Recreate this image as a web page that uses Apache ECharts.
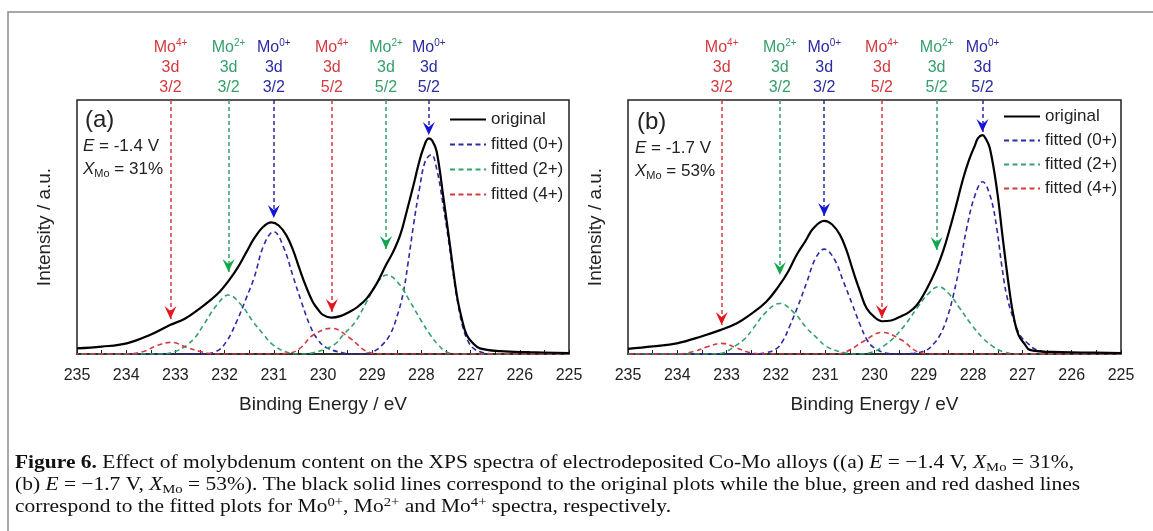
<!DOCTYPE html>
<html>
<head>
<meta charset="utf-8">
<script src="https://cdn.jsdelivr.net/npm/echarts@6/dist/echarts.min.js"></script>
<style>
  html, body { margin: 0; padding: 0; background: #fff; }
  #chart { width: 1153px; height: 531px; }
</style>
</head>
<body>
<div id="chart"></div>
<script>
// binding energy (eV), intensity (a.u., 0-100 of the frame height)
const origA = [[225.0, 0.4], [225.8, 0.7], [226.4, 1.1], [226.81, 2.2], [226.95, 4.2], [227.08, 7.5], [227.18, 14], [227.28, 23.2], [227.42, 42.9], [227.56, 62.6], [227.69, 79.7], [227.78, 84], [227.85, 84.9], [227.96, 81], [228.06, 74.5], [228.16, 66.5], [228.3, 56], [228.43, 46.9], [228.58, 40], [228.72, 35], [228.9, 28], [229.11, 21.9], [229.3, 18.5], [229.45, 16.7], [229.65, 14.9], [229.83, 14.3], [230.0, 15.4], [230.1, 17.5], [230.21, 20.6], [230.35, 26.8], [230.48, 33.7], [230.62, 41.5], [230.75, 46.9], [230.9, 50.6], [231.05, 51.8], [231.22, 50], [231.4, 45.5], [231.56, 40], [231.75, 33.5], [231.93, 28.5], [232.1, 24.5], [232.3, 21], [232.5, 18], [232.8, 14], [233.11, 11.4], [233.52, 7.5], [233.99, 4.2], [234.5, 2.9], [235.0, 2.2]];
const fit0A = [[225.0, 0], [226.4, 0], [226.74, 0.5], [226.94, 2.2], [227.05, 5], [227.15, 10], [227.25, 19], [227.35, 31], [227.45, 45], [227.56, 58.7], [227.68, 72], [227.8, 78.5], [227.92, 76], [228.04, 65], [228.16, 50.8], [228.27, 36], [228.37, 24], [228.5, 14.5], [228.64, 7.5], [228.8, 3.5], [228.95, 1.2], [229.1, 0.3], [229.35, 0], [229.6, 0.5], [229.93, 2.5], [230.1, 5.5], [230.26, 11], [230.43, 20], [230.6, 30], [230.8, 42], [231.0, 48.2], [231.2, 43], [231.4, 30], [231.56, 22], [231.75, 13], [231.96, 5], [232.17, 1], [232.5, 0], [235.0, 0]];
const fit2A = [[225.0, 0], [227.2, 0], [227.49, 0.8], [227.65, 3.5], [227.82, 7.5], [228.0, 13], [228.23, 20.6], [228.45, 27.5], [228.7, 31.1], [228.9, 28], [229.11, 20.6], [229.35, 12.5], [229.59, 7.5], [229.75, 4], [229.93, 2.2], [230.2, 0.5], [230.45, 0], [230.7, 0.5], [231.01, 3.5], [231.2, 7.5], [231.42, 12.7], [231.65, 19], [231.92, 23.2], [232.15, 19.5], [232.43, 11.4], [232.6, 6.5], [232.77, 3.5], [233.0, 1], [233.3, 0], [235.0, 0]];
const fit4A = [[225.0, 0], [228.8, 0], [229.11, 1], [229.45, 6.2], [229.82, 10.1], [230.2, 7.5], [230.47, 2.2], [230.7, 0.3], [231.0, 0], [232.2, 0], [232.5, 1], [232.78, 2.7], [233.08, 4.6], [233.39, 3.2], [233.65, 1], [234.0, 0], [235.0, 0]];

const origB = [[225.0, 0.4], [225.8, 0.6], [226.4, 0.8], [226.85, 1.6], [226.95, 3.8], [227.08, 7.5], [227.17, 14], [227.25, 23.2], [227.39, 44.2], [227.52, 65.2], [227.66, 81], [227.75, 85], [227.81, 86.2], [227.9, 85], [227.96, 82.3], [228.08, 76.5], [228.2, 69.2], [228.33, 59.5], [228.47, 49.5], [228.6, 41], [228.74, 33.7], [228.93, 26], [229.14, 19.3], [229.3, 16.5], [229.48, 14.7], [229.66, 13.2], [229.85, 12.9], [230.0, 14.5], [230.16, 18], [230.3, 25], [230.43, 32.4], [230.57, 41], [230.7, 46.9], [230.86, 51], [231.02, 52.4], [231.24, 49.5], [231.4, 44.5], [231.58, 39], [231.75, 32.5], [231.95, 26.5], [232.2, 20.5], [232.53, 15.4], [232.8, 12], [233.13, 9.4], [233.5, 7], [234.01, 4.2], [234.5, 3], [235.0, 2]];
const fit0B = [[225.0, 0], [226.2, 0], [226.4, 0.3], [226.71, 1.6], [226.88, 4], [227.05, 7.5], [227.2, 15], [227.32, 23.2], [227.42, 35], [227.52, 49.5], [227.65, 62], [227.81, 67.8], [227.97, 62], [228.13, 49.5], [228.27, 35], [228.4, 23.2], [228.53, 14], [228.67, 7.5], [228.8, 4], [228.94, 1.6], [229.2, 0.3], [229.5, 0], [229.75, 0.3], [230.02, 2.6], [230.15, 5.5], [230.29, 11.4], [230.45, 19.5], [230.63, 28.5], [230.82, 37.5], [231.02, 41.3], [231.2, 37.5], [231.37, 28.5], [231.55, 19], [231.71, 11.4], [231.85, 5.5], [231.98, 2.2], [232.2, 0.5], [232.5, 0], [235.0, 0]];
const fit2B = [[225.0, 0], [227.1, 0], [227.39, 0.9], [227.6, 3], [227.8, 6.2], [228.03, 11.5], [228.27, 18], [228.48, 23.5], [228.7, 26.5], [228.92, 23.5], [229.14, 18], [229.38, 11.5], [229.62, 6.2], [229.82, 3], [230.02, 0.9], [230.3, 0], [230.63, 0.6], [230.97, 2.9], [231.15, 6], [231.37, 10.1], [231.62, 16], [231.92, 19.9], [232.2, 16.5], [232.46, 10.1], [232.63, 6], [232.8, 3.5], [233.05, 0.6], [233.3, 0], [235.0, 0]];
const fit4B = [[225.0, 0], [228.8, 0], [229.14, 1], [229.45, 5.5], [229.85, 8.5], [230.22, 5], [230.56, 1], [230.8, 0], [232.2, 0], [232.53, 0.6], [232.8, 2.4], [233.1, 4.2], [233.4, 2.8], [233.66, 1], [234.0, 0], [235.0, 0]];

// peak markers: energy, arrow tip height, charge, spin-orbit level
const peakE_A = [233.1, 231.92, 231.0, 229.82, 228.72, 227.85];
const tipA = [13.8, 32.3, 53.5, 16.5, 41.3, 86.2];
const peakE_B = [233.1, 231.92, 231.02, 229.85, 228.74, 227.81];
const tipB = [11.4, 31.1, 54.3, 14.2, 40.9, 87.4];
const ions = ['4+', '2+', '0+', '4+', '2+', '0+'];
const levels = ['3/2', '3/2', '3/2', '5/2', '5/2', '5/2'];

const FONT = 'Liberation Sans, Arial, sans-serif';
const SERIF = 'Liberation Serif, Times New Roman, serif';
const col = { '0+': '#2b2ba3', '2+': '#35a06a', '4+': '#d23a3f' };
const arrowCol = { '0+': '#1414d8', '2+': '#12a64a', '4+': '#e8141c' };
const names = ['original', 'fitted (0+)', 'fitted (2+)', 'fitted (4+)'];

const chart = echarts.init(document.getElementById('chart'));

function curve(name, data, color, dashed, gi) {
  return {
    name, type: 'line', xAxisIndex: gi, yAxisIndex: gi, data,
    symbol: 'none', smooth: 0.4, silent: true, animation: false,
    z: dashed ? 2 : 3,
    lineStyle: { color, width: dashed ? 1.6 : 2.2, type: dashed ? [5, 3.5] : 'solid' },
    itemStyle: { color }
  };
}

function markers(peaks, tips) {
  return {
    markLine: {
      silent: true, animation: false, symbol: 'none',
      lineStyle: { type: [4, 3], width: 1.5 },
      label: {
        show: true, position: 'start', distance: 2,
        fontFamily: FONT, fontSize: 16, lineHeight: 20, align: 'center',
        rich: {
          m: { fontFamily: FONT, fontSize: 16, lineHeight: 20 },
          s: { fontFamily: FONT, fontSize: 10, lineHeight: 12, verticalAlign: 'top' }
        }
      },
      data: peaks.map((e, i) => [
        { coord: [e, 100], lineStyle: { color: col[ions[i]] },
          label: { color: col[ions[i]], formatter: '{m|Mo}{s|' + ions[i] + '}\n3d\n' + levels[i] } },
        { coord: [e, tips[i]] }
      ])
    },
    markPoint: {
      silent: true, animation: false,
      symbol: 'path://M0,0 L6,5 L12,0 L6,13 Z', symbolSize: [12, 13], symbolOffset: [0, '-50%'],
      label: { show: false },
      data: peaks.map((e, i) => ({ coord: [e, tips[i]], itemStyle: { color: arrowCol[ions[i]] } }))
    }
  };
}

function xAxis(gi) {
  return {
    gridIndex: gi, type: 'value', min: 225, max: 235, interval: 1, inverse: true,
    name: 'Binding Energy / eV', nameLocation: 'middle', nameGap: 41,
    nameTextStyle: { fontFamily: FONT, fontSize: 19, color: '#222' },
    axisLine: { show: true, lineStyle: { color: '#222', width: 1.5 } },
    axisTick: { show: true, inside: true, length: 4, lineStyle: { color: '#222' } },
    minorTick: { show: true, splitNumber: 2, length: 4, lineStyle: { color: '#222' } },
    axisLabel: { fontFamily: FONT, fontSize: 16, color: '#222', margin: 14 },
    splitLine: { show: false }
  };
}

function yAxis(gi) {
  return {
    gridIndex: gi, type: 'value', min: 0, max: 100,
    name: 'Intensity / a.u.', nameLocation: 'middle', nameGap: 23, nameRotate: 90,
    nameTextStyle: { fontFamily: FONT, fontSize: 19, color: '#222' },
    axisLine: { show: false }, axisTick: { show: false },
    axisLabel: { show: false }, splitLine: { show: false }
  };
}

function legend(left, top, gap) {
  return {
    left, top, orient: 'vertical', itemWidth: 36, itemHeight: 14, itemGap: gap,
    padding: 0, data: names, selectedMode: false,
    itemStyle: { opacity: 0 },
    textStyle: { fontFamily: FONT, fontSize: 17, color: '#222' }
  };
}

function panelText(x, y, tag, volt, pct) {
  const base = { fontFamily: FONT, fontSize: 17, fill: '#222' };
  return [
    { type: 'text', x: x + 2, y: y, style: { text: tag, font: '24px ' + FONT, fill: '#222' } },
    { type: 'text', x: x, y: y + 30, style: Object.assign({
        text: '{i|E} = ' + volt + ' V',
        rich: { i: { fontFamily: FONT, fontSize: 17, fontStyle: 'italic', fill: '#222' } } }, base) },
    { type: 'text', x: x, y: y + 51, style: Object.assign({
        text: '{i|X}{sub|Mo} = ' + pct + '%',
        rich: {
          i: { fontFamily: FONT, fontSize: 17, fontStyle: 'italic', fill: '#222', lineHeight: 20 },
          sub: { fontFamily: FONT, fontSize: 11, fill: '#222', lineHeight: 13, verticalAlign: 'bottom' }
        } }, base) }
  ];
}

const capRich = {
  b: { fontFamily: SERIF, fontSize: 19, fontWeight: 'bold', fill: '#111' },
  i: { fontFamily: SERIF, fontSize: 19, fontStyle: 'italic', fill: '#111', lineHeight: 22 },
  sub: { fontFamily: SERIF, fontSize: 13, fill: '#111', lineHeight: 14, verticalAlign: 'bottom' },
  sup: { fontFamily: SERIF, fontSize: 13, fill: '#111', lineHeight: 12, verticalAlign: 'top' },
  n: { fontFamily: SERIF, fontSize: 19, fill: '#111', lineHeight: 22 }
};
const capLines = [
  '{b|Figure 6.} Effect of molybdenum content on the XPS spectra of electrodeposited Co-Mo alloys ((a) {i|E} = \u22121.4 V, {i|X}{sub|Mo} = 31%,',
  '(b) {i|E} = \u22121.7 V, {i|X}{sub|Mo} = 53%). The black solid lines correspond to the original plots while the blue, green and red dashed lines',
  '{n|correspond to the fitted plots for Mo}{sup|0+}{n|, Mo}{sup|2+}{n| and Mo}{sup|4+}{n| spectra, respectively.}'
];

const blackA = curve(names[0], origA, '#000', false, 0);
Object.assign(blackA, markers(peakE_A, tipA), { clip: false });
const blackB = curve(names[0], origB, '#000', false, 1);
Object.assign(blackB, markers(peakE_B, tipB), { clip: false });

chart.setOption({
  backgroundColor: '#fff',
  animation: false,
  grid: [
    { left: 77, top: 100, width: 492, height: 254, show: true, borderColor: '#222', borderWidth: 1.5 },
    { left: 628, top: 100, width: 493, height: 254, show: true, borderColor: '#222', borderWidth: 1.5 }
  ],
  xAxis: [xAxis(0), xAxis(1)],
  yAxis: [yAxis(0), yAxis(1)],
  legend: [legend(449, 111, 8), legend(1003, 108, 7)],
  series: [
    curve(names[1], fit0A, col['0+'], true, 0),
    curve(names[2], fit2A, col['2+'], true, 0),
    curve(names[3], fit4A, col['4+'], true, 0),
    blackA,
    curve(names[1], fit0B, col['0+'], true, 1),
    curve(names[2], fit2B, col['2+'], true, 1),
    curve(names[3], fit4B, col['4+'], true, 1),
    blackB
  ],
  graphic: [
    { type: 'rect', shape: { x: 8, y: 12, width: 1300, height: 700 }, style: { fill: 'none', stroke: '#8a8a8a', lineWidth: 1.5 } }
  ].concat(panelText(83, 108, '(a)', '-1.4', '31'))
   .concat(panelText(635, 110, '(b)', '-1.7', '53'))
   .concat(capLines.map((t, i) => ({
     type: 'text', x: 15, y: 452 + i * 22, scaleX: 1.13,
     style: { text: t, rich: capRich, fontFamily: SERIF, fontSize: 19, fill: '#111' }
   })))
});
</script>
</body>
</html>
